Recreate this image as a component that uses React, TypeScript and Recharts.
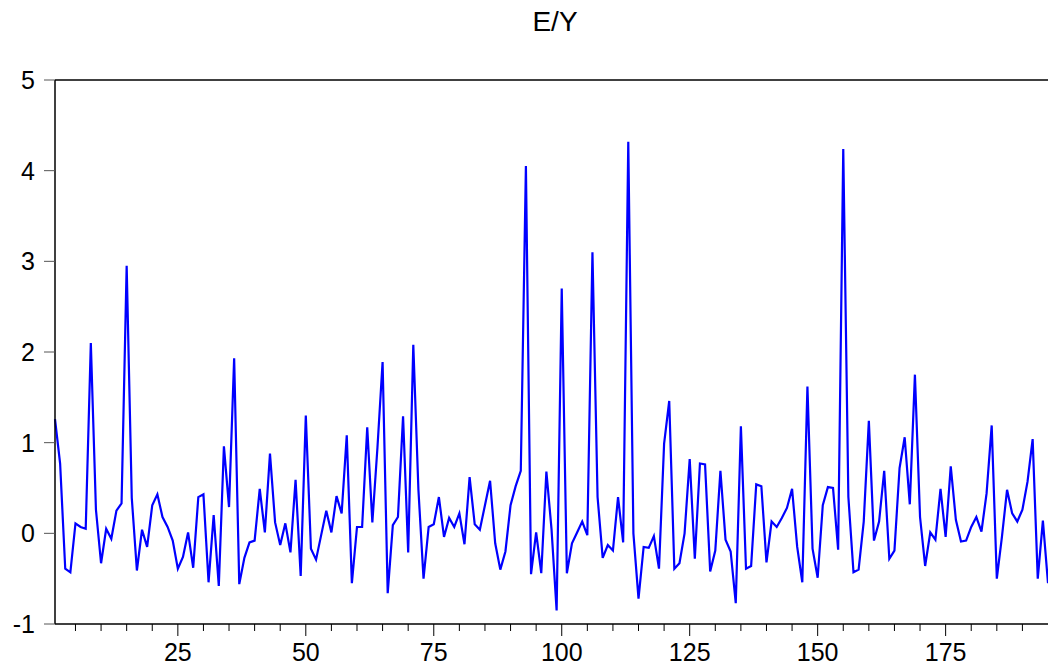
import React from "react";
import { LineChart, Line, XAxis, YAxis, ReferenceLine } from "recharts";

// E/Y observations 1..195 (the right end of the source image is cropped)
const eyValues: number[] = [
  1.26, 0.77, -0.39, -0.43, 0.11, 0.07, 0.05, 2.1, 0.26, -0.33,
  0.05, -0.06, 0.25, 0.33, 2.95, 0.39, -0.41, 0.04, -0.15, 0.31,
  0.43, 0.18, 0.07, -0.08, -0.39, -0.26, 0.01, -0.38, 0.4, 0.43,
  -0.54, 0.2, -0.58, 0.96, 0.29, 1.93, -0.56, -0.27, -0.1, -0.08,
  0.49, 0.01, 0.88, 0.12, -0.13, 0.11, -0.21, 0.59, -0.47, 1.3,
  -0.17, -0.29, -0.02, 0.25, 0.01, 0.41, 0.22, 1.08, -0.55, 0.07,
  0.07, 1.17, 0.12, 0.95, 1.89, -0.66, 0.09, 0.18, 1.29, -0.21,
  2.08, 0.48, -0.5, 0.07, 0.1, 0.4, -0.04, 0.17, 0.07, 0.22,
  -0.12, 0.62, 0.1, 0.04, 0.31, 0.58, -0.11, -0.4, -0.2, 0.31,
  0.52, 0.69, 4.05, -0.45, 0.01, -0.44, 0.68, 0.05, -0.85, 2.7,
  -0.44, -0.11, 0.01, 0.13, -0.02, 3.1, 0.4, -0.27, -0.13, -0.19,
  0.4, -0.1, 4.32, 0.0, -0.72, -0.15, -0.16, -0.03, -0.39, 0.99,
  1.46, -0.39, -0.33, 0.0, 0.82, -0.28, 0.77, 0.76, -0.42, -0.19,
  0.69, -0.07, -0.2, -0.77, 1.18, -0.39, -0.36, 0.54, 0.52, -0.32,
  0.13, 0.07, 0.17, 0.28, 0.49, -0.15, -0.54, 1.62, -0.17, -0.49,
  0.31, 0.51, 0.5, -0.18, 4.24, 0.4, -0.43, -0.4, 0.13, 1.24,
  -0.08, 0.13, 0.69, -0.28, -0.19, 0.72, 1.06, 0.32, 1.75, 0.18,
  -0.36, 0.01, -0.07, 0.49, -0.04, 0.74, 0.15, -0.09, -0.08, 0.07,
  0.18, 0.02, 0.44, 1.19, -0.5, -0.04, 0.48, 0.22, 0.13, 0.26,
  0.57, 1.04, -0.5, 0.14, -0.55,
];

const xTicks = [5, 10, 15, 20, 25, 30, 35, 40, 45, 50, 55, 60, 65, 70, 75, 80, 85, 90, 95,
  100, 105, 110, 115, 120, 125, 130, 135, 140, 145, 150, 155, 160, 165, 170, 175, 180, 185, 190];
const xLabels = [25, 50, 75, 100, 125, 150, 175];
const yTicks = [-1, 0, 1, 2, 3, 4, 5];

const data = eyValues.map((v, k) => ({ obs: k + 1, ey: v }));

const font = "'Liberation Sans', Arial, sans-serif";

const XTick = (props: any) => {
  const { x, y, payload } = props;
  const major = xLabels.includes(payload.value);
  return (
    <g>
      <line x1={x} x2={x} y1={y} y2={y + (major ? 12 : 7)} stroke="#000" strokeWidth={1} />
      {major && (
        <text x={x} y={y + 37} textAnchor="middle" fontSize={25} fontFamily={font} fill="#000">
          {payload.value}
        </text>
      )}
    </g>
  );
};

export default function App() {
  return (
    <div style={{ position: "absolute", left: 0, top: 0, width: 1048, height: 666, background: "#fff" }}>
      <div
        style={{
          position: "absolute",
          left: 455,
          width: 200,
          top: 6,
          textAlign: "center",
          fontFamily: font,
          fontSize: 28,
          color: "#000",
        }}
      >
        E/Y
      </div>
      <LineChart width={1048} height={666} data={data} margin={{ top: 80, right: 0, bottom: 0, left: 0 }}>
        <XAxis
          dataKey="obs"
          type="number"
          domain={[1, 195]}
          ticks={xTicks}
          interval={0}
          height={42}
          tickLine={false}
          tickSize={0}
          tickMargin={0}
          axisLine={{ stroke: "#000", strokeWidth: 1.5 }}
          tick={<XTick />}
        />
        <YAxis
          type="number"
          domain={[-1, 5]}
          ticks={yTicks}
          interval={0}
          width={55}
          tickSize={11}
          tickMargin={9}
          tickLine={{ stroke: "#555" }}
          axisLine={{ stroke: "#000", strokeWidth: 1.5 }}
          tick={{ fontSize: 25, fontFamily: font, fill: "#000" }}
        />
        <ReferenceLine y={5} stroke="#000" strokeWidth={1.5} />
        <Line
          dataKey="ey"
          type="linear"
          stroke="#0000ff"
          strokeWidth={2.2}
          dot={false}
          isAnimationActive={false}
        />
      </LineChart>
    </div>
  );
}
